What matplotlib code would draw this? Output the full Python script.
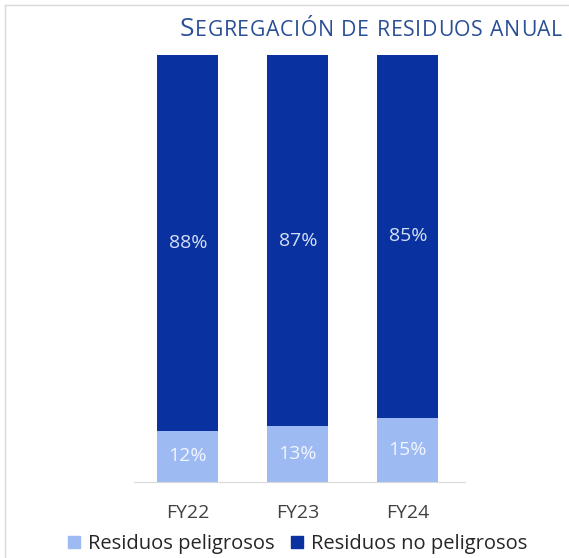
import numpy as np
import matplotlib.pyplot as plt
from matplotlib.lines import Line2D
from matplotlib.patches import Patch

plt.rcParams['font.family'] = ['Open Sans', 'DejaVu Sans']

years = ["FY22", "FY23", "FY24"]
peligrosos = [12, 13, 15]
no_peligrosos = [88, 87, 85]

c_light = "#9dbaf3"
c_dark = "#0a31a0"

fig = plt.figure(figsize=(5.69, 5.58), dpi=100)
ax = fig.add_axes([0.2355, 0.1362, 0.5817, 0.7652])

x = np.arange(len(years))
w = 0.555
ax.bar(x, peligrosos, w, color=c_light)
ax.bar(x, no_peligrosos, w, bottom=peligrosos, color=c_dark)

for i in range(len(years)):
    ax.text(x[i], peligrosos[i] / 2, f"{peligrosos[i]}%", ha="center", va="center",
            color="#f2f6ff", fontsize=14)
    ax.text(x[i], peligrosos[i] + no_peligrosos[i] / 2, f"{no_peligrosos[i]}%",
            ha="center", va="center", color="#d4e0f7", fontsize=14)

ax.set_xlim(-0.49, 2.52)
ax.set_ylim(0, 100)
ax.set_xticks(x)
ax.set_xticklabels(years, fontsize=14, color="#404040")
ax.tick_params(axis="x", length=0, pad=16)
ax.set_yticks([])
for s in ["top", "right", "left"]:
    ax.spines[s].set_visible(False)
ax.spines["bottom"].set_color("#d9d9d9")

# marco
fig.add_artist(Line2D([5 / 569, 5 / 569], [0, 1 - 5 / 558], color="#d9d9d9", lw=1))
fig.add_artist(Line2D([5 / 569, 1], [1 - 5 / 558, 1 - 5 / 558], color="#d9d9d9", lw=1))

# titulo en versalitas, letra a letra
title = "Segregación de residuos anual"
fig.canvas.draw()
r = fig.canvas.get_renderer()
xpos = 180
ybase = 558 - 36
track = 0.6
for ch in title:
    if ch == " ":
        xpos += 7
        continue
    sz = 19 if ch.isupper() else 15.3
    t = fig.text(xpos / 569, ybase / 558, ch.upper(), fontsize=sz, color="#2a4f96",
                 ha="left", va="baseline")
    xpos += t.get_window_extent(renderer=r).width + track

handles = [Patch(color=c_light), Patch(color=c_dark)]
fig.legend(handles, ["Residuos peligrosos", "Residuos no peligrosos"],
           loc="center", bbox_to_anchor=(0.523, 0.025), ncol=2, frameon=False,
           fontsize=14.5, handlelength=0.6, handleheight=0.6, handletextpad=0.4,
           columnspacing=0.8, labelcolor="#262626")

fig.savefig("out.png", dpi=100)
